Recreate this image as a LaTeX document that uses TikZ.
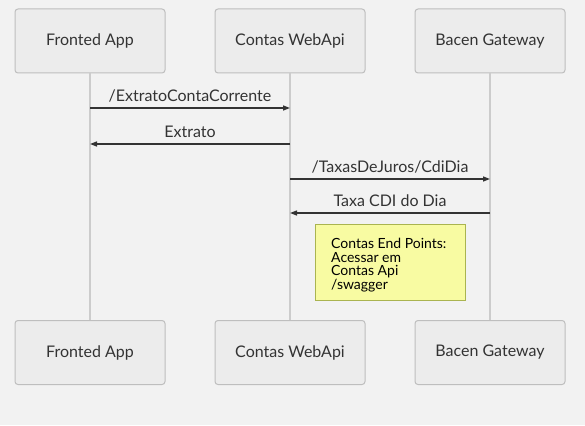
\documentclass[tikz,border=0pt]{standalone}
\usepackage{fontspec}
\setmainfont{Lato}
\usetikzlibrary{arrows.meta}
\usetikzlibrary{positioning}

\definecolor{bgcol}{RGB}{242,242,242}
\definecolor{actfill}{RGB}{236,236,236}
\definecolor{actline}{RGB}{190,190,190}
\definecolor{lifecol}{RGB}{204,204,204}
\definecolor{msgcol}{RGB}{51,51,51}
\definecolor{notefill}{RGB}{248,251,162}
\definecolor{noteline}{RGB}{170,180,80}

\tikzset{
  actor/.style={draw=actline, fill=actfill, line width=1pt, rounded corners=3pt,
    minimum width=150pt, minimum height=64pt, inner sep=0pt,
    font=\fontsize{16}{19}\selectfont, text=msgcol},
  life/.style={draw=lifecol, line width=1.3pt},
  msg/.style={draw=msgcol, line width=1.3pt, -{Triangle[length=7pt,width=5pt]}},
  lbl/.style={anchor=base, inner sep=0pt, yshift=6.5pt,
    font=\fontsize{16}{19}\selectfont, text=msgcol},
  note/.style={draw=noteline, fill=notefill, line width=1pt,
    minimum width=150pt, minimum height=76pt, anchor=north west}
}

\begin{document}
\begin{tikzpicture}[x=1pt,y=-1pt]
  \useasboundingbox[fill=bgcol] (0,0) rectangle (585,425);

  % actors
  \node[actor] (frontT) at (90,41) {Fronted App};
  \node[actor] (contasT) at (290,41) {Contas WebApi};
  \node[actor] (bacenT) at (490,41) {Bacen Gateway};
  \node[actor] (frontB) at (90,352.5) {Fronted App};
  \node[actor] (contasB) at (290,352.5) {Contas WebApi};
  \node[actor] (bacenB) at (490,352.5) {Bacen Gateway};

  % lifelines
  \draw[life] (frontT) -- (frontB);
  \draw[life] (contasT) -- (contasB);
  \draw[life] (bacenT) -- (bacenB);

  % message points
  \coordinate (f1) at (90,108);
  \coordinate (c1) at (290,108);
  \coordinate (c2) at (290,144);
  \coordinate (f2) at (90,144);
  \coordinate (c3) at (290,179);
  \coordinate (b3) at (490,179);
  \coordinate (b4) at (490,213);
  \coordinate (c4) at (290,213);

  \draw[msg] (f1) -- node[lbl] (m1) {/ExtratoContaCorrente} (c1);
  \draw[msg] (c2) -- node[lbl] (m2) {Extrato} (f2);
  \draw[msg] (c3) -- node[lbl] (m3) {/TaxasDeJuros/CdiDia} (b3);
  \draw[msg] (b4) -- node[lbl] (m4) {Taxa CDI do Dia} (c4);

  % note
  \node[note] (endpts) at (315,224) {};
  \node[anchor=north west, inner sep=0pt, align=left, text=black,
    font=\fontsize{14}{13.7}\selectfont] (notetxt) at (331,238)
    {Contas End Points:\\Acessar em\\Contas Api\\/swagger};
\end{tikzpicture}
\end{document}
